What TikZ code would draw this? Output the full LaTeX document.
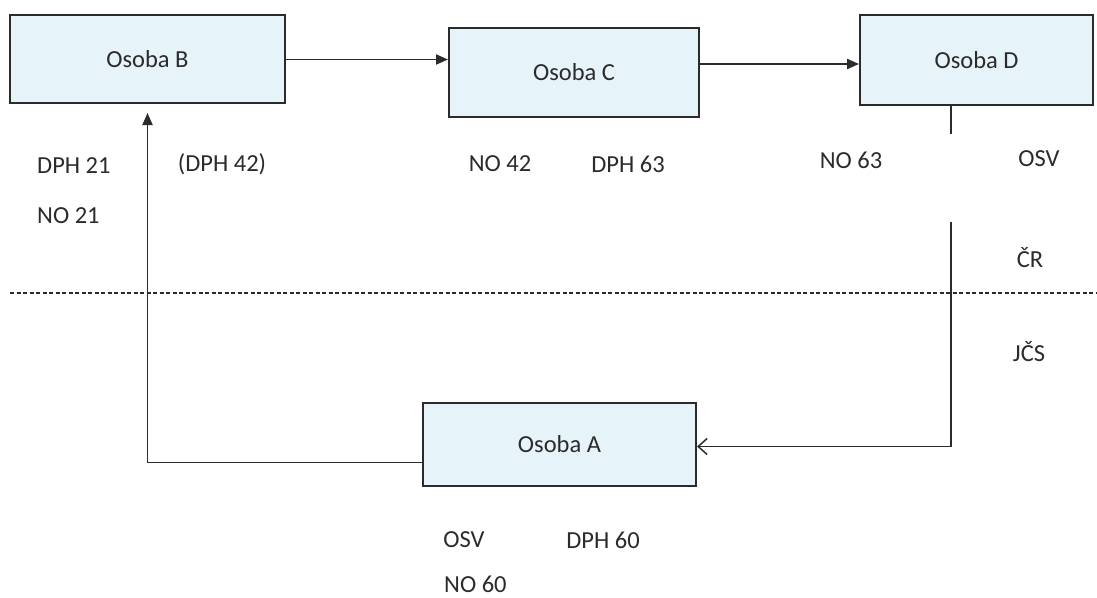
\documentclass[tikz,border=0pt]{standalone}
\usepackage{fontspec}
\setmainfont{Carlito}
\usetikzlibrary{arrows.meta}
\definecolor{boxfill}{HTML}{E6F3F9}
\definecolor{ink}{HTML}{2B2B2B}
\begin{document}
\begin{tikzpicture}[x=1pt,y=-1pt,
  person/.style={draw=ink,line width=2pt,fill=boxfill,inner sep=0pt,font=\fontsize{24.5}{27}\selectfont,text=ink},
  lbl/.style={font=\fontsize{24.5}{27}\selectfont,text=ink,inner sep=0pt},
  conn/.style={draw=ink,line width=1.9pt},
  fillarrow/.style={-{Triangle[length=12pt,width=10pt]}},
  openarrow/.style={-{Straight Barb[length=9pt,width=16pt,line width=1.5pt]}}]
\useasboundingbox (0,0) rectangle (1097,597);
\fill[white] (0,0) rectangle (1097,597);
% boxes
\node[person,minimum width=275pt,minimum height=88pt] (B) at (147.5,59) {Osoba B};
\node[person,minimum width=250pt,minimum height=89pt] (C) at (574,72.5) {Osoba C};
\node[person,minimum width=233pt,minimum height=90pt] (D) at (976.5,60) {Osoba D};
\node[person,minimum width=273pt,minimum height=83pt] (A) at (559.5,444.5) {Osoba A};
% labels
\node[lbl,anchor=west] (dph21) at (37,166) {DPH 21};
\node[lbl,anchor=west] (no21) at (37,216) {NO 21};
\node[lbl] (dph42) at (222,164) {(DPH 42)};
\node[lbl] (no42) at (500,164) {NO 42};
\node[lbl] (dph63) at (628,164) {DPH 63};
\node[lbl] (no63) at (851,160) {NO 63};
\node[lbl] (osvD) at (1039,159) {OSV};
\node[lbl] (cr) at (1030,258) {ČR};
\node[lbl] (jcs) at (1029,352) {JČS};
\node[lbl] (osvA) at (464,540) {OSV};
\node[lbl] (dph60) at (603,540) {DPH 60};
\node[lbl,anchor=west] (no60) at (444,584) {NO 60};
% border line
\coordinate (l1) at (10,293);
\coordinate (l2) at (1097,293);
\draw[ink,line width=1.3pt,dash pattern=on 4pt off 2.5pt] (l1) -- (l2);
% connectors
\draw[conn,fillarrow] ([yshift=-0.5pt]B.east) -- ([yshift=-0.5pt]B.east -| C.west);
\draw[conn,fillarrow] ([yshift=8.5pt]C.east) -- ([yshift=8.5pt]C.east -| D.west);
\coordinate (d0) at (951,105);
\coordinate (d1) at (951,134);
\coordinate (d2) at (951,222);
\draw[conn] (d0) -- (d1);
\draw[conn,openarrow] (d2) |- ([yshift=-2pt]A.east);
\draw[conn,fillarrow,shorten >=9pt] ([yshift=-18pt]A.west) -| (B.south);
\end{tikzpicture}
\end{document}
